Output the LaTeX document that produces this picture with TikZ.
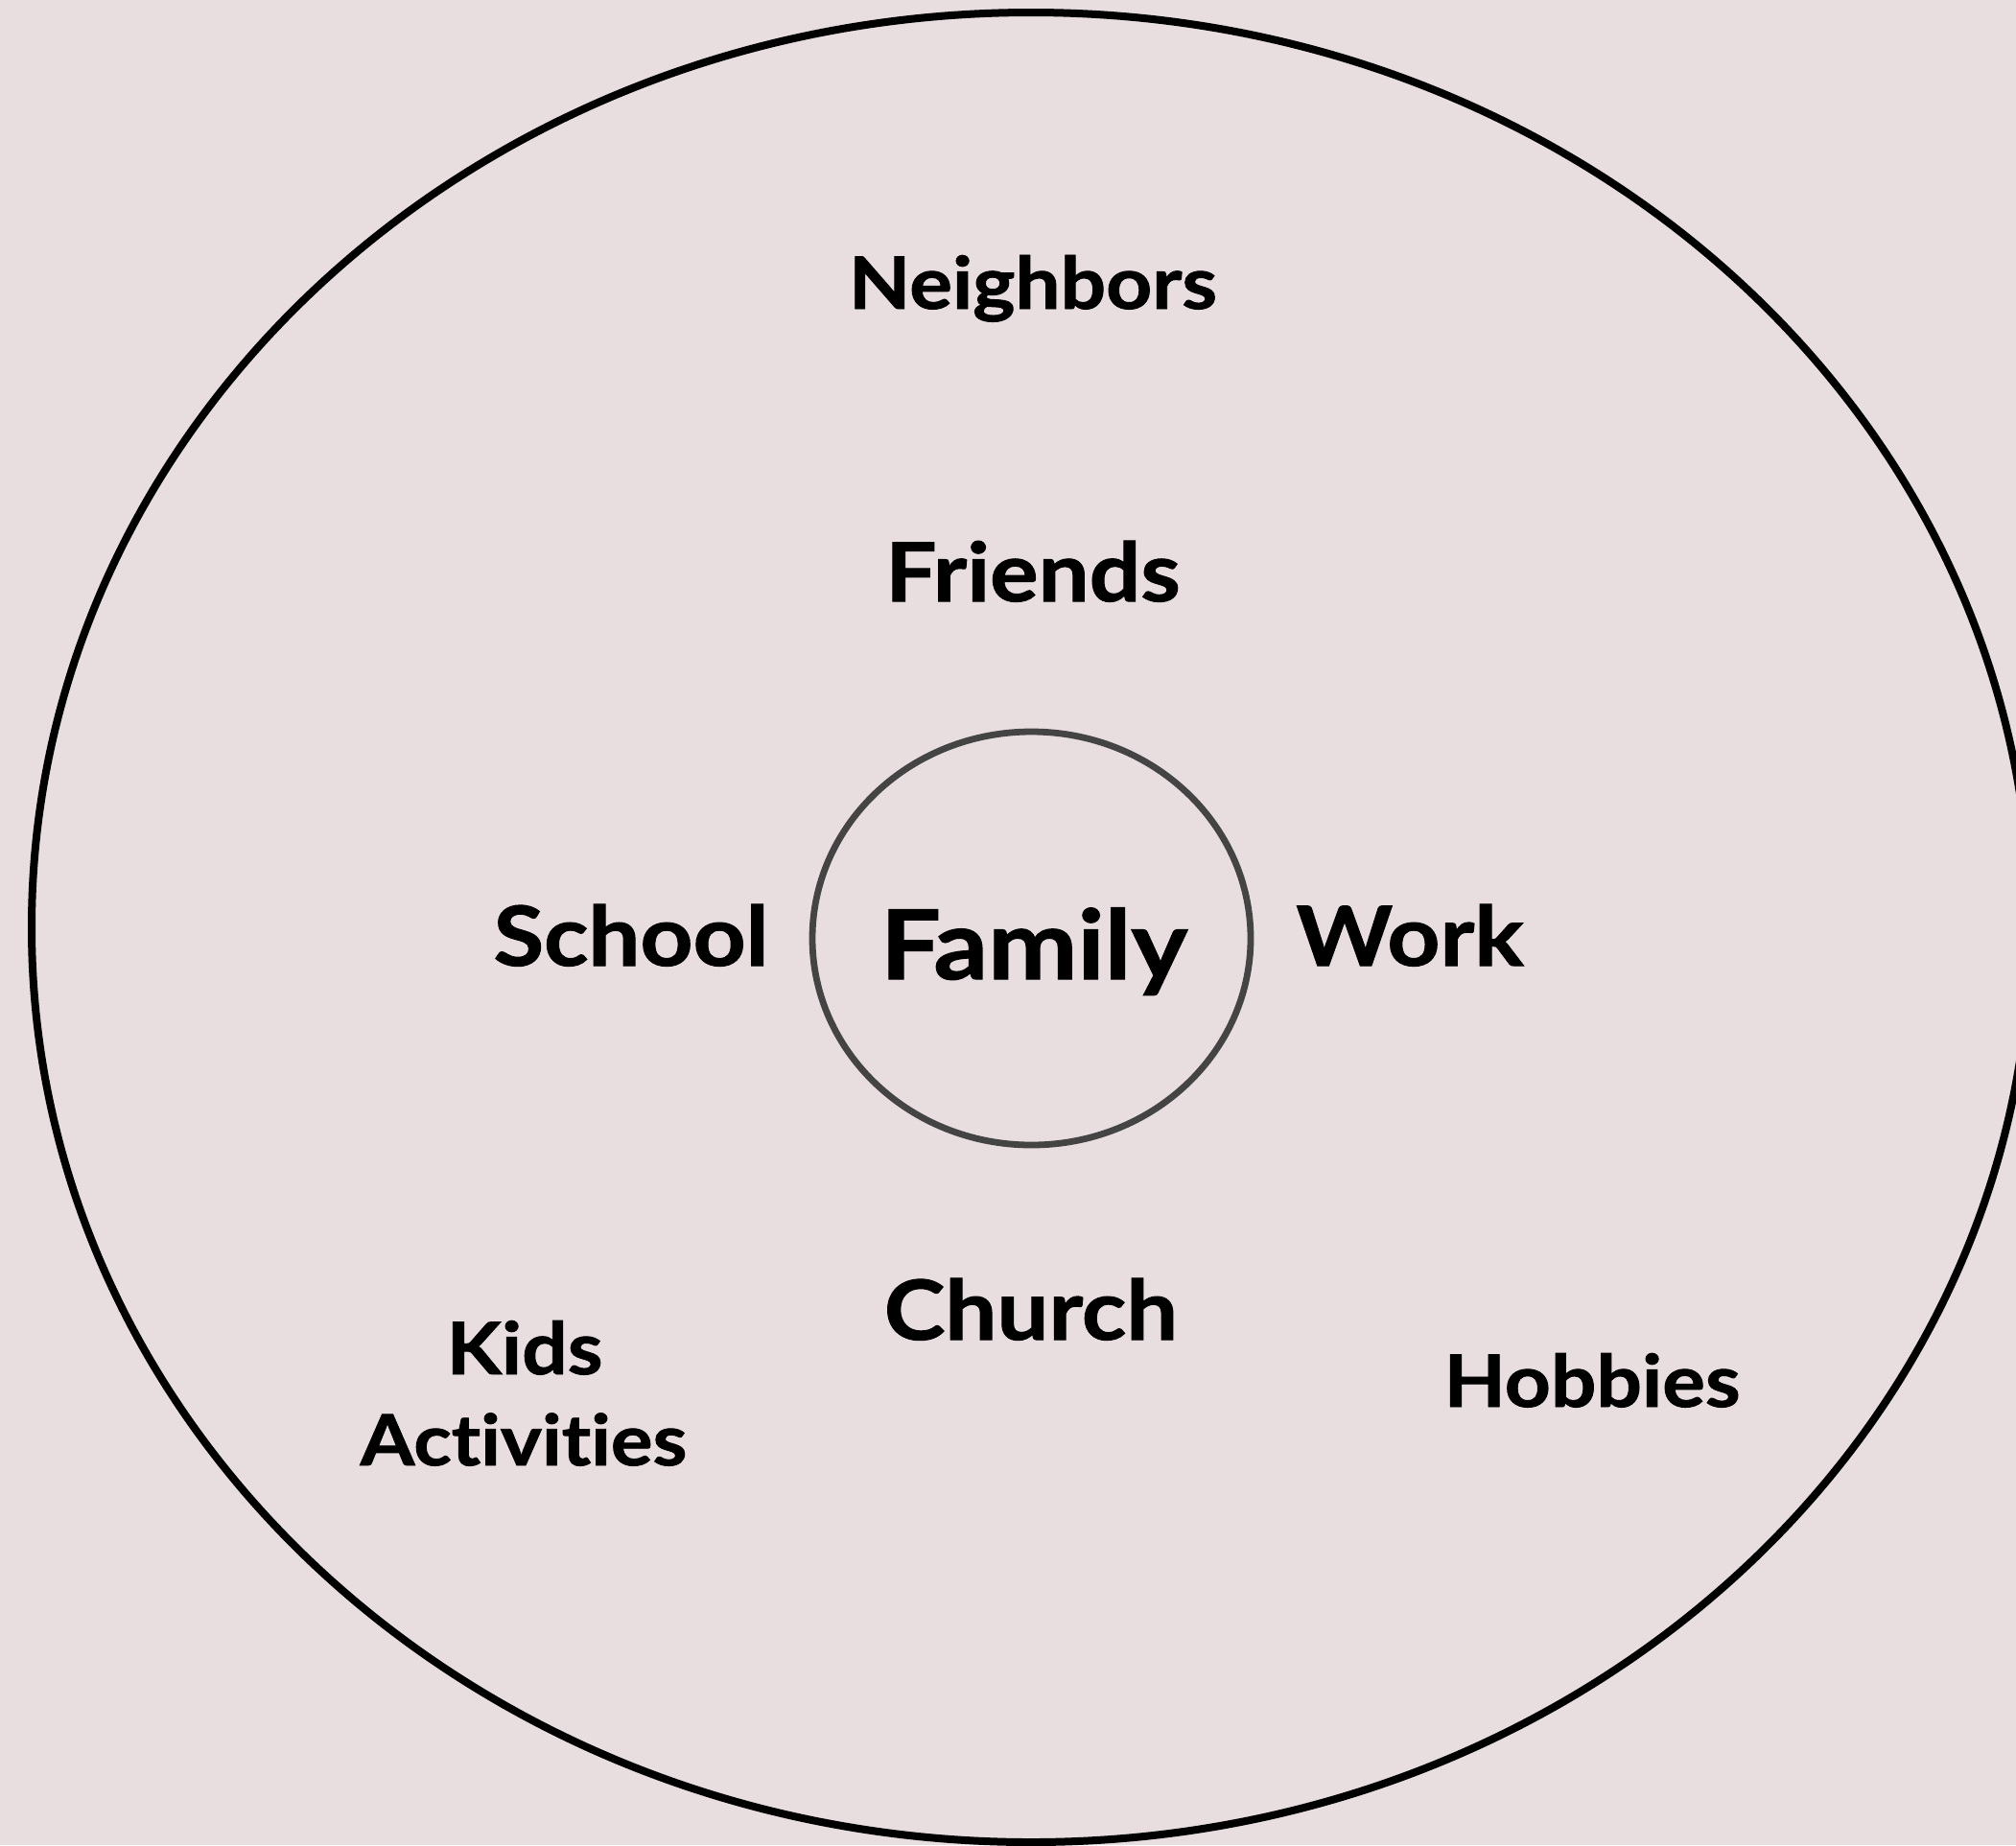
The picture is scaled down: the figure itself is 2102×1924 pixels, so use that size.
\documentclass[tikz,border=0pt]{standalone}
\usepackage{fontspec}
\setmainfont{Lato}[BoldFont={Lato Bold}, BoldFeatures={FakeStretch=1.11, FakeBold=1.2}, Ligatures={NoCommon}]
\usetikzlibrary{shapes.geometric}
\definecolor{bgpink}{RGB}{232,222,224}
\definecolor{ringgray}{RGB}{68,68,68}
\tikzset{
  ring/.style={ellipse, draw, inner sep=0pt, outer sep=0pt},
  lbl/.style={anchor=base, inner sep=0pt, font=\bfseries, text=black},
}
\begin{document}
\begin{tikzpicture}[x=0.5pt,y=-0.5pt]
\useasboundingbox (0,0) rectangle (2102,1924);
\clip (0,0) rectangle (2102,1924);
\fill[bgpink] (0,0) rectangle (2102,1924);
\node[ring, line width=4pt, minimum width=1042pt, minimum height=954pt] (outer) at (1075,967) {};
\node[ring, draw=ringgray, line width=3.4pt, minimum width=228.5pt, minimum height=215.5pt] (inner) at (1075.5,978.5) {};
\node[lbl, font=\fontsize{37.7}{45}\selectfont\bfseries] (neighbors) at (1077,322) {Neighbors};
\node[lbl, font=\fontsize{42.5}{50}\selectfont\bfseries] (friends) at (1077,627) {Friends};
\node[lbl, font=\fontsize{43.2}{50}\selectfont\bfseries] (school) at (658,1007) {School};
\node[lbl, font=\fontsize{43.2}{50}\selectfont\bfseries] (work) at (1470,1007) {Work};
\node[lbl, font=\fontsize{50.2}{60}\selectfont\bfseries] (family) at (1078,1021) {Family};
\node[lbl, font=\fontsize{43.2}{50}\selectfont\bfseries] (church) at (1075,1397) {Church};
\node[lbl, font=\fontsize{37.7}{45}\selectfont\bfseries] (hobbies) at (1660,1467) {Hobbies};
\node[lbl, font=\fontsize{37.7}{45}\selectfont\bfseries] (kids) at (547,1433) {Kids};
\node[lbl, font=\fontsize{36.8}{45}\selectfont\bfseries] (activities) at (546,1528) {Activities};
\end{tikzpicture}
\end{document}
